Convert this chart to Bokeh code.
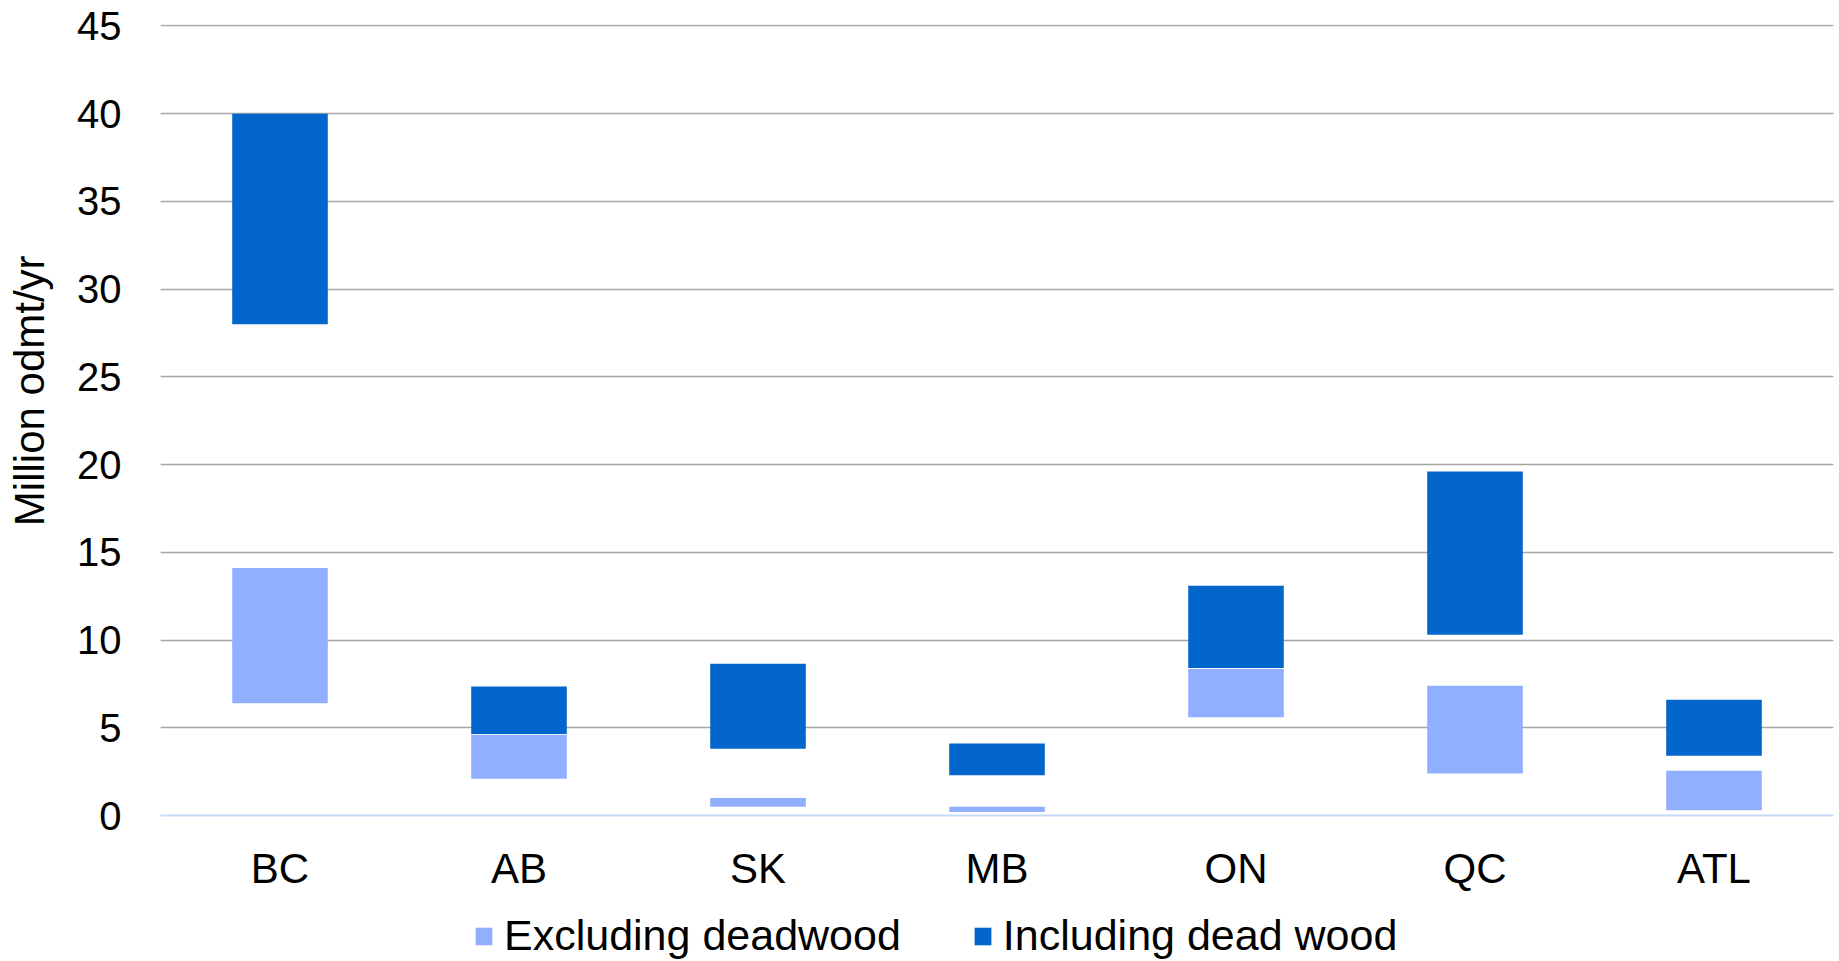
from bokeh.plotting import figure
from bokeh.layouts import column
from bokeh.models import (ColumnDataSource, Legend, LegendItem, Range1d,
                          FactorRange, SingleIntervalTicker)
from bokeh.embed import file_html
from bokeh.resources import INLINE

regions = ["BC", "AB", "SK", "MB", "ON", "QC", "ATL"]
excl_low = [6.4, 2.1, 0.5, 0.2, 5.6, 2.4, 0.3]
excl_high = [14.1, 4.6, 1.0, 0.5, 8.35, 7.4, 2.55]
incl_low = [28.0, 4.65, 3.8, 2.3, 8.4, 10.3, 3.4]
incl_high = [40.0, 7.35, 8.65, 4.1, 13.1, 19.6, 6.6]
series_names = ["Excluding deadwood", "Including dead wood"]

LIGHT = "#91AFFF"
DARK = "#0366CC"
FONT = "Liberation Sans"

src = ColumnDataSource(dict(region=regions, el=excl_low, eh=excl_high,
                            il=incl_low, ih=incl_high))

p = figure(x_range=FactorRange(factors=regions, range_padding=0),
           y_range=Range1d(0, 45.08), width=1839, height=900,
           output_backend="svg", toolbar_location=None,
           min_border_left=160, min_border_right=6, min_border_top=24,
           min_border_bottom=85)

r1 = p.vbar(x="region", bottom="el", top="eh", width=0.4, source=src,
            fill_color=LIGHT, line_color=None)
r2 = p.vbar(x="region", bottom="il", top="ih", width=0.4, source=src,
            fill_color=DARK, line_color=None)

p.outline_line_color = None
p.xgrid.grid_line_color = None
p.ygrid.grid_line_color = "#A6A6A6"
p.ygrid.grid_line_width = 1.5

p.yaxis.ticker = SingleIntervalTicker(interval=5)
p.yaxis.axis_line_color = None
p.yaxis.major_tick_line_color = None
p.yaxis.minor_tick_line_color = None
p.yaxis.major_label_text_font = FONT
p.yaxis.major_label_text_font_size = "40px"
p.yaxis.major_label_text_color = "black"
p.yaxis.major_label_standoff = 33
p.yaxis.axis_label = "\u00a0" * 5 + "Million odmt/yr"
p.yaxis.axis_label_text_font = FONT
p.yaxis.axis_label_text_font_size = "42px"
p.yaxis.axis_label_text_font_style = "normal"
p.yaxis.axis_label_text_color = "black"
p.yaxis.axis_label_standoff = 21

p.xaxis.axis_line_color = "#C6D9F5"
p.xaxis.axis_line_width = 2
p.xaxis.major_tick_line_color = None
p.xaxis.minor_tick_line_color = None
p.xaxis.major_label_text_font = FONT
p.xaxis.major_label_text_font_size = "42px"
p.xaxis.major_label_text_color = "black"
p.xaxis.major_label_standoff = 23

# legend strip below the chart
lg = figure(width=1839, height=61, x_range=Range1d(0, 1), y_range=Range1d(0, 1),
            output_backend="svg", toolbar_location=None,
            min_border=0, min_border_left=160, min_border_right=6,
            min_border_top=0, min_border_bottom=0)
lg.axis.visible = False
lg.grid.visible = False
lg.outline_line_color = None
offscreen = ColumnDataSource(dict(x=[-5], top=[-5]))
d1 = lg.vbar(x="x", top="top", width=0.1, source=offscreen,
             fill_color=LIGHT, line_color=None)
d2 = lg.vbar(x="x", top="top", width=0.1, source=offscreen,
             fill_color=DARK, line_color=None)

legend = Legend(items=[LegendItem(label=series_names[0], renderers=[d1]),
                       LegendItem(label=series_names[1], renderers=[d2])],
                orientation="horizontal", location=(313, 1),
                glyph_width=21, glyph_height=22, label_standoff=10, spacing=71,
                padding=0, margin=0, border_line_color=None,
                background_fill_alpha=0,
                label_text_font=FONT, label_text_font_size="43px",
                label_text_color="black", label_height=44)
lg.add_layout(legend, "center")

layout = column(p, lg, spacing=0)
open("out.html", "w").write(file_html(layout, INLINE))
